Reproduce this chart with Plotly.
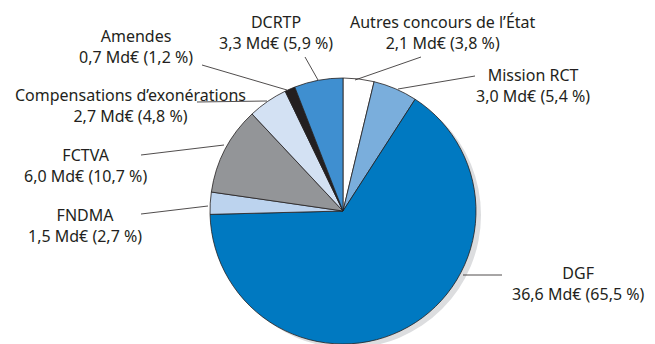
import plotly.graph_objects as go

# Concours financiers de l'État aux collectivités (Md€)
categories = [
    "Autres concours de l’État",
    "Mission RCT",
    "DGF",
    "FNDMA",
    "FCTVA",
    "Compensations d’exonérations",
    "Amendes",
    "DCRTP",
]
amounts = [2.1, 3.0, 36.6, 1.5, 6.0, 2.7, 0.7, 3.3]
shares = [3.8, 5.4, 65.5, 2.7, 10.7, 4.8, 1.2, 5.9]
colors = ["#ffffff", "#7aaedc", "#0079c1", "#bcd3ee",
          "#939598", "#d3e1f3", "#231f20", "#3f8fd0"]

W, H = 655, 344


def px(x):
    return x / W


def py(y):
    return 1 - y / H


# pie placement in pixels
cx, cy, r = 343, 211, 133

fig = go.Figure()
fig.add_trace(go.Pie(
    labels=categories,
    values=amounts,
    sort=False,
    direction="clockwise",
    rotation=0,
    marker=dict(colors=colors, line=dict(color="#231f20", width=0.8)),
    textinfo="none",
    hoverinfo="label+value",
    showlegend=False,
    domain=dict(x=[px(cx - r), px(cx + r)], y=[py(cy + r), py(cy - r)]),
))

# soft drop shadow behind the pie
shapes = [dict(
    type="circle", xref="paper", yref="paper", layer="below",
    x0=px(cx - r + 5), x1=px(cx + r + 5), y0=py(cy + r + 4), y1=py(cy - r + 4),
    fillcolor="#dcdddf", line=dict(width=0),
)]

# label anchors (pixel centre of each text block) and leader lines
label_pos = [(443, 33), (533, 85), (578, 283), (85, 225),
             (85, 165), (130, 105), (136, 46), (276, 33)]
leaders = [((355, 80), (421, 57)), ((398, 89), (475, 76)),
           ((463, 275), (502, 275)), ((208, 206), (141, 214)),
           ((224, 145), (141, 155)), ((267, 101), (197, 102)),
           ((287, 90), (202, 65)), ((318, 80), (305, 57))]

def fmt(v):
    return f"{v:.1f}".replace(".", ",")

annotations = []
for name, amt, sh, (lx, ly) in zip(categories, amounts, shares, label_pos):
    annotations.append(dict(
        x=px(lx), y=py(ly), xref="paper", yref="paper",
        xanchor="center", yanchor="middle", showarrow=False,
        text=f"{name}<br>{fmt(amt)} Md€ ({fmt(sh)} %)",
        font=dict(family="Noto Sans", size=16, color="#231f20"),
    ))

for (x0, y0), (x1, y1) in leaders:
    shapes.append(dict(
        type="line", xref="paper", yref="paper",
        x0=px(x0), y0=py(y0), x1=px(x1), y1=py(y1),
        line=dict(color="#231f20", width=0.8),
    ))

fig.update_layout(
    width=W, height=H,
    margin=dict(l=0, r=0, t=0, b=0),
    paper_bgcolor="white", plot_bgcolor="white",
    shapes=shapes, annotations=annotations,
)

fig.write_html("out.html")
